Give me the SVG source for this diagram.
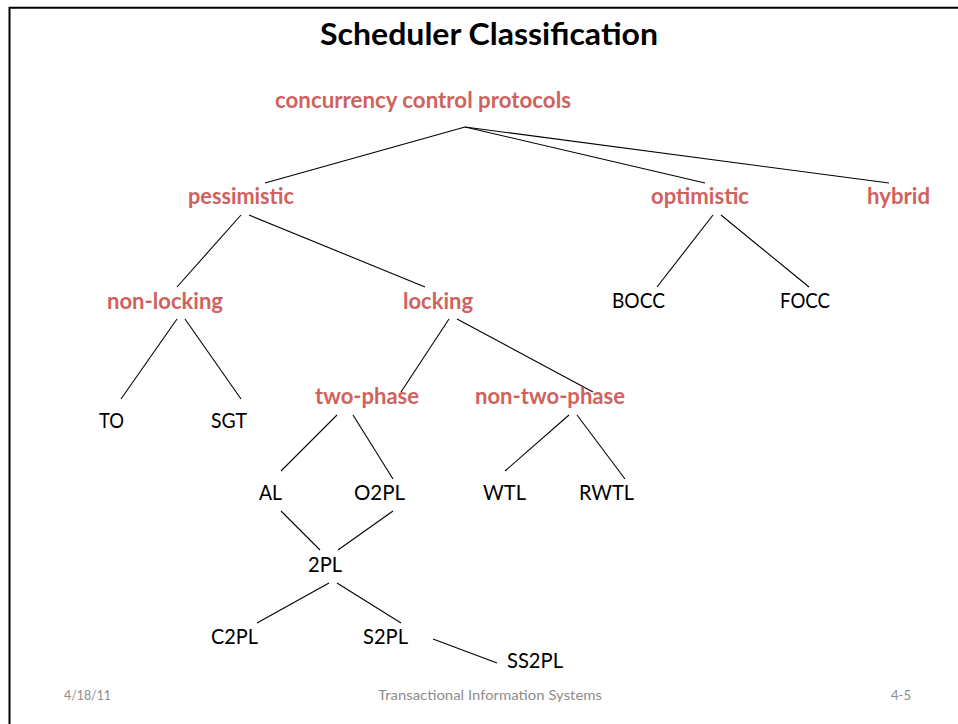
<svg xmlns="http://www.w3.org/2000/svg" width="958" height="724" viewBox="0 0 958 724">
<style>
.frame{fill:none;stroke:#000;stroke-width:2}
.title{font-family:Lato,"Liberation Sans",sans-serif;font-weight:bold;font-size:30px;fill:#000}
.cat{font-family:Lato,"Liberation Sans",sans-serif;font-weight:bold;font-size:23px;fill:#d0625d}
.leaf{font-family:Lato,"Liberation Sans",sans-serif;font-size:21px;fill:#000}
.foot{font-family:Lato,"Liberation Sans",sans-serif;font-size:13px;fill:#8c8c8c}
#connectors line{stroke:#000;stroke-width:1.1;fill:none}
</style>
<rect width="958" height="724" fill="#fff"/>
<path class="frame" d="M9.5,724 V7.8 H958"/>
<text class="title" x="320" y="45" textLength="338" lengthAdjust="spacingAndGlyphs">Scheduler Classification</text>

<g id="connectors">
<line x1="465" y1="127" x2="265" y2="183"/>
<line x1="465" y1="127" x2="705" y2="183"/>
<line x1="465" y1="127" x2="889" y2="183"/>
<line x1="241" y1="215" x2="177" y2="287"/>
<line x1="249" y1="215" x2="425" y2="287"/>
<line x1="713" y1="215" x2="657" y2="287"/>
<line x1="721" y1="215" x2="809" y2="287"/>
<line x1="177" y1="319" x2="121" y2="399"/>
<line x1="185" y1="319" x2="241" y2="399"/>
<line x1="449" y1="319" x2="401" y2="392"/>
<line x1="457" y1="319" x2="593" y2="392"/>
<line x1="337" y1="415" x2="281" y2="471"/>
<line x1="353" y1="415" x2="393" y2="479"/>
<line x1="569" y1="415" x2="505" y2="471"/>
<line x1="577" y1="415" x2="625" y2="479"/>
<line x1="281" y1="511" x2="320" y2="550"/>
<line x1="393" y1="511" x2="338" y2="550"/>
<line x1="329" y1="583" x2="257" y2="623"/>
<line x1="337" y1="583" x2="401" y2="623"/>
<line x1="433" y1="639" x2="497" y2="663"/>
</g>

<g id="n-root"><text class="cat" x="275" y="108" textLength="296" lengthAdjust="spacingAndGlyphs">concurrency control protocols</text></g>
<g id="n-pessimistic"><text class="cat" x="188" y="204" textLength="106" lengthAdjust="spacingAndGlyphs">pessimistic</text></g>
<g id="n-optimistic"><text class="cat" x="651" y="204" textLength="98" lengthAdjust="spacingAndGlyphs">optimistic</text></g>
<g id="n-hybrid"><text class="cat" x="867" y="204" textLength="63" lengthAdjust="spacingAndGlyphs">hybrid</text></g>
<g id="n-nonlocking"><text class="cat" x="107" y="309" textLength="116" lengthAdjust="spacingAndGlyphs">non-locking</text></g>
<g id="n-locking"><text class="cat" x="403" y="309" textLength="70" lengthAdjust="spacingAndGlyphs">locking</text></g>
<g id="n-twophase"><text class="cat" x="315" y="404" textLength="104" lengthAdjust="spacingAndGlyphs">two-phase</text></g>
<g id="n-nontwophase"><text class="cat" x="475" y="404" textLength="150" lengthAdjust="spacingAndGlyphs">non-two-phase</text></g>

<g id="n-bocc"><text class="leaf" x="612" y="308" textLength="53" lengthAdjust="spacingAndGlyphs">BOCC</text></g>
<g id="n-focc"><text class="leaf" x="780" y="308" textLength="50" lengthAdjust="spacingAndGlyphs">FOCC</text></g>
<g id="n-to"><text class="leaf" x="99" y="428" textLength="25" lengthAdjust="spacingAndGlyphs">TO</text></g>
<g id="n-sgt"><text class="leaf" x="211" y="428" textLength="36" lengthAdjust="spacingAndGlyphs">SGT</text></g>
<g id="n-al"><text class="leaf" x="259" y="500" textLength="23" lengthAdjust="spacingAndGlyphs">AL</text></g>
<g id="n-o2pl"><text class="leaf" x="354" y="500" textLength="51" lengthAdjust="spacingAndGlyphs">O2PL</text></g>
<g id="n-wtl"><text class="leaf" x="483" y="500" textLength="43" lengthAdjust="spacingAndGlyphs">WTL</text></g>
<g id="n-rwtl"><text class="leaf" x="579" y="500" textLength="55" lengthAdjust="spacingAndGlyphs">RWTL</text></g>
<g id="n-2pl"><text class="leaf" x="308" y="572" textLength="34" lengthAdjust="spacingAndGlyphs">2PL</text></g>
<g id="n-c2pl"><text class="leaf" x="211" y="644" textLength="47" lengthAdjust="spacingAndGlyphs">C2PL</text></g>
<g id="n-s2pl"><text class="leaf" x="363" y="644" textLength="45" lengthAdjust="spacingAndGlyphs">S2PL</text></g>
<g id="n-ss2pl"><text class="leaf" x="507" y="668" textLength="56" lengthAdjust="spacingAndGlyphs">SS2PL</text></g>

<text class="foot" x="64" y="700" textLength="47" lengthAdjust="spacingAndGlyphs">4/18/11</text>
<text class="foot" x="378" y="700" textLength="224" lengthAdjust="spacingAndGlyphs">Transactional Information Systems</text>
<text class="foot" x="891" y="700" textLength="20" lengthAdjust="spacingAndGlyphs">4-5</text>
</svg>
